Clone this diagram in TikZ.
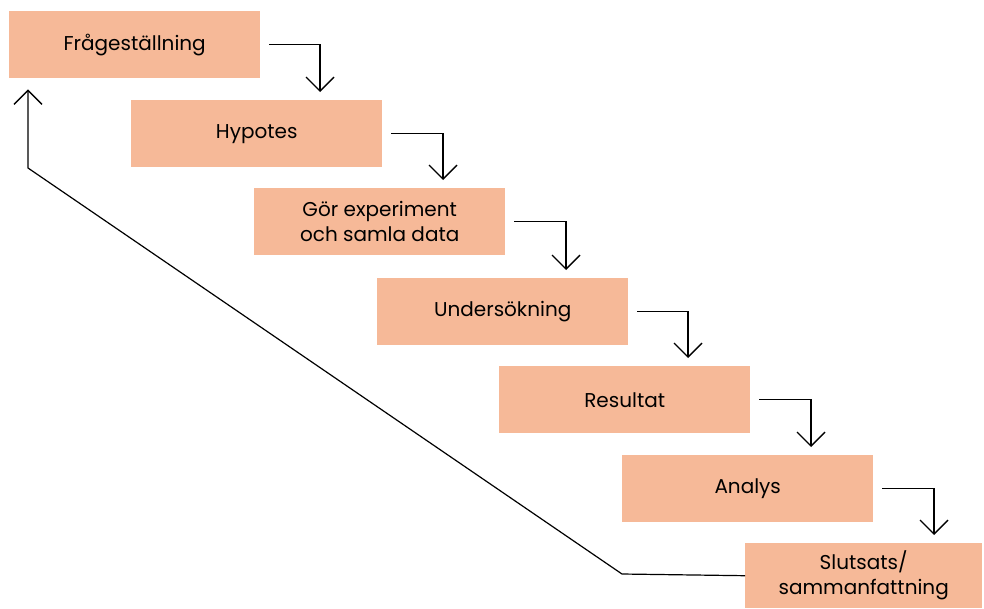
\documentclass[tikz,border=0pt]{standalone}
\usepackage{fontspec}
\setmainfont{Poppins}
\usetikzlibrary{arrows.meta,calc}
\definecolor{stepfill}{HTML}{F6B998}
\begin{document}
\begin{tikzpicture}[x=1pt,y=-1pt,
  stepbox/.style={fill=stepfill, anchor=north west, minimum width=251pt,
    minimum height=67pt, inner sep=0pt, align=center,
    font=\fontsize{20pt}{25pt}\selectfont},
  flow/.style={line width=1.4pt, -{Straight Barb[length=14pt,width=28pt,line width=1.4pt]}},
  back/.style={line width=1.2pt, -{Straight Barb[length=14pt,width=28pt,line width=1.4pt]}}]
\useasboundingbox (0,0) rectangle (984,608);
\node[stepbox] (b1) at (9,11)   {Frågeställning};
\node[stepbox] (b2) at (131,100) {Hypotes};
\node[stepbox] (b3) at (254,188) {Gör experiment\\och samla data};
\node[stepbox] (b4) at (377,278) {Undersökning};
\node[stepbox] (b5) at (499,366) {Resultat};
\node[stepbox] (b6) at (622,455) {Analys};
\node[stepbox, minimum width=237pt, minimum height=65pt] (b7) at (745,543) {Slutsats/\\sammanfattning};
% step-to-step connectors
\foreach \a/\b in {b1/b2,b2/b3,b3/b4,b4/b5,b5/b6,b6/b7}
  \draw[flow] ([xshift=9pt]\a.east) -| ($(\b.north west)+(189,-8)$);
% feedback loop back to the first step
\coordinate (fbA) at (622,574);
\coordinate (fbB) at (28,168);
\draw[back] (b7.west) -- (fbA) -- (fbB) -- ($(b1.south west)+(19,11)$);
\end{tikzpicture}
\end{document}
